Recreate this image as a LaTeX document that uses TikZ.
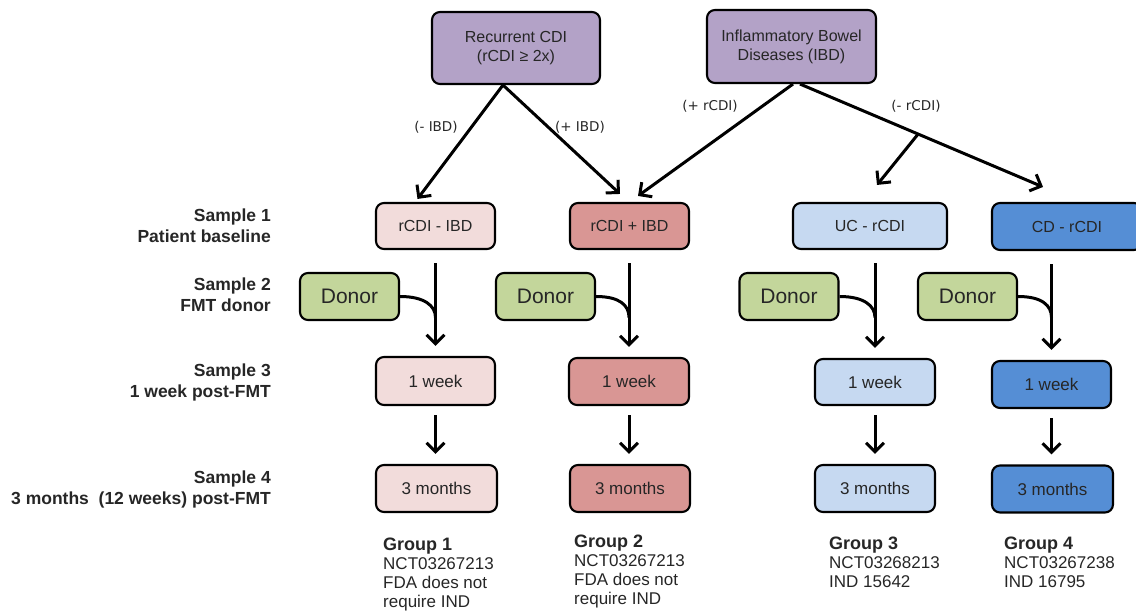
\documentclass[tikz,border=0pt]{standalone}
\usepackage{fontspec}
\setmainfont{Liberation Sans}
\newfontfamily\dejavu{DejaVu Sans}
\usetikzlibrary{arrows.meta}
\definecolor{purp}{HTML}{B3A2C7}
\definecolor{pinkL}{HTML}{F2DCDB}
\definecolor{pinkD}{HTML}{D99694}
\definecolor{blueL}{HTML}{C6D9F1}
\definecolor{blueD}{HTML}{558ED5}
\definecolor{greenD}{HTML}{C3D69B}
\definecolor{txt}{HTML}{262626}
\tikzset{
  box/.style={draw=black, line width=2.1pt, rounded corners=8pt, inner sep=0pt, text=txt, align=center},
  topbox/.style={box, fill=purp, minimum width=168pt, minimum height=72pt, font=\fontsize{16}{19}\selectfont},
  rowbox/.style={box, minimum width=119pt, minimum height=46pt, font=\fontsize{16}{19}\selectfont},
  timebox/.style={box, minimum width=120pt, minimum height=47pt, font=\fontsize{17}{20}\selectfont},
  donorbox/.style={box, fill=greenD, minimum width=99pt, minimum height=47pt, font=\fontsize{21}{24}\selectfont},
  slab/.style={inner sep=0pt, align=right, text=txt, font=\bfseries\fontsize{17.5}{21}\selectfont},
  glab/.style={inner sep=0pt, align=left, text=txt, font=\fontsize{17}{19}\selectfont},
  elab/.style={inner sep=0pt, text=txt, font=\dejavu\fontsize{13.5}{16}\selectfont},
  arr/.style={-{Straight Barb[length=9pt,width=18pt]}, line width=3pt},
  ln/.style={line width=3pt}
}
\begin{document}
\begin{tikzpicture}[x=1pt,y=-1pt]
\useasboundingbox (0,0) rectangle (1136,612);
\clip (0,0) rectangle (1136,612);

% top boxes
\node[topbox] (rc) at (516,48) {Recurrent CDI\\(rCDI ≥ 2x)};
\node[topbox, minimum width=169pt, minimum height=73pt] (ibd) at (791.5,46.5) {Inflammatory Bowel\\Diseases (IBD)};

% row 1
\node[rowbox, fill=pinkL] (b1) at (435.5,226) {rCDI - IBD};
\node[rowbox, fill=pinkD] (b2) at (629.5,226) {rCDI + IBD};
\node[rowbox, fill=blueL, minimum width=154pt] (b3) at (870,226) {UC - rCDI};
\node[rowbox, fill=blueD, minimum width=150pt, minimum height=47pt] (b4) at (1067,226.5) {CD - rCDI};

% donors
\node[donorbox] (d1) at (349.5,296.5) {Donor};
\node[donorbox] (d2) at (545.5,296.5) {Donor};
\node[donorbox] (d3) at (789,296.5) {Donor};
\node[donorbox] (d4) at (967.5,296.5) {Donor};

% row 3
\node[timebox, fill=pinkL, minimum width=119pt, minimum height=48pt] (w1) at (435.5,381) {1 week};
\node[timebox, fill=pinkD] (w2) at (629,381.5) {1 week};
\node[timebox, fill=blueL, minimum height=46pt] (w3) at (875,382) {1 week};
\node[timebox, fill=blueD, minimum width=119pt] (w4) at (1051.5,384.5) {1 week};

% row 4
\node[timebox, fill=pinkL, minimum width=121pt] (m1) at (436.5,488.5) {3 months};
\node[timebox, fill=pinkD] (m2) at (630,488.5) {3 months};
\node[timebox, fill=blueL] (m3) at (875,488.5) {3 months};
\node[timebox, fill=blueD, minimum width=121pt] (m4) at (1052.5,489) {3 months};

% top connectors
\draw[arr] ([xshift=-13pt]rc.south) -- ([xshift=-18pt,yshift=3pt]b1.north);
\draw[arr] ([xshift=-13pt]rc.south) -- ([xshift=-9.5pt,yshift=8pt]b2.north);
\draw[arr] ([xshift=1.5pt]ibd.south) -- ([xshift=8.5pt,yshift=6pt]b2.north);
\draw[arr] ([xshift=8.5pt]ibd.south) -- coordinate[pos=0.486] (br) ([xshift=-24pt,yshift=15pt]b4.north);
\draw[arr] (br) -- ([xshift=7pt,yshift=17pt]b3.north);

% edge labels
\node[elab] (l1) at (436,127) {(- IBD)};
\node[elab] (l2) at (580,127) {(+ IBD)};
\node[elab] (l3) at (710,106) {(+ rCDI)};
\node[elab] (l4) at (916,106) {(- rCDI)};

% vertical arrows row1 -> row3
\draw[arr, shorten <=13pt, shorten >=10pt] (b1.south) -- (w1.north);
\draw[arr, shorten <=13pt, shorten >=10pt] (b2.south -| w2.north) -- (w2.north);
\draw[arr, shorten <=13pt, shorten >=10pt] (b3.south -| w3.north) -- (w3.north);
\draw[arr, shorten <=13pt, shorten >=10pt] (b4.south -| w4.north) -- (w4.north);

% donor joins
\draw[ln] (d1.east) .. controls +(24,0) and +(0,-12) .. ([yshift=-21pt]d1.east -| w1.north);
\draw[ln] (d2.east) .. controls +(24,0) and +(0,-12) .. ([yshift=-21pt]d2.east -| w2.north);
\draw[ln] (d3.east) .. controls +(24,0) and +(0,-12) .. ([yshift=-21pt]d3.east -| w3.north);
\draw[ln] (d4.east) .. controls +(24,0) and +(0,-12) .. ([yshift=-21pt]d4.east -| w4.north);

% row3 -> row4
\draw[arr, shorten <=9pt, shorten >=10pt] (w1.south) -- (w1.south |- m1.north);
\draw[arr, shorten <=9pt, shorten >=10pt] (w2.south) -- (w2.south |- m2.north);
\draw[arr, shorten <=9pt, shorten >=10pt] (w3.south) -- (w3.south |- m3.north);
\draw[arr, shorten <=9pt, shorten >=10pt] (w4.south) -- (w4.south |- m4.north);

% sample labels
\node[slab, anchor=east] (s1) at (271,226) {Sample 1\\Patient baseline};
\node[slab, anchor=east] (s2) at (271,295) {Sample 2\\FMT donor};
\node[slab, anchor=east] (s3) at (271,382) {Sample 3\\1 week post-FMT};
\node[slab, anchor=east] (s4) at (271,489) {Sample 4\\3 months \ (12 weeks) post-FMT};

% group labels
\node[glab, anchor=north west] (g1) at (383,537.5) {{\bfseries\fontsize{18}{19}\selectfont Group 1}\\NCT03267213\\FDA does not\\require IND};
\node[glab, anchor=north west] (g2) at (574,534.5) {{\bfseries\fontsize{18}{19}\selectfont Group 2}\\NCT03267213\\FDA does not\\require IND};
\node[glab, anchor=north west] (g3) at (829,536.5) {{\bfseries\fontsize{18}{19}\selectfont Group 3}\\NCT03268213\\IND 15642};
\node[glab, anchor=north west] (g4) at (1004,536.5) {{\bfseries\fontsize{18}{19}\selectfont Group 4}\\NCT03267238\\IND 16795};
\end{tikzpicture}
\end{document}
